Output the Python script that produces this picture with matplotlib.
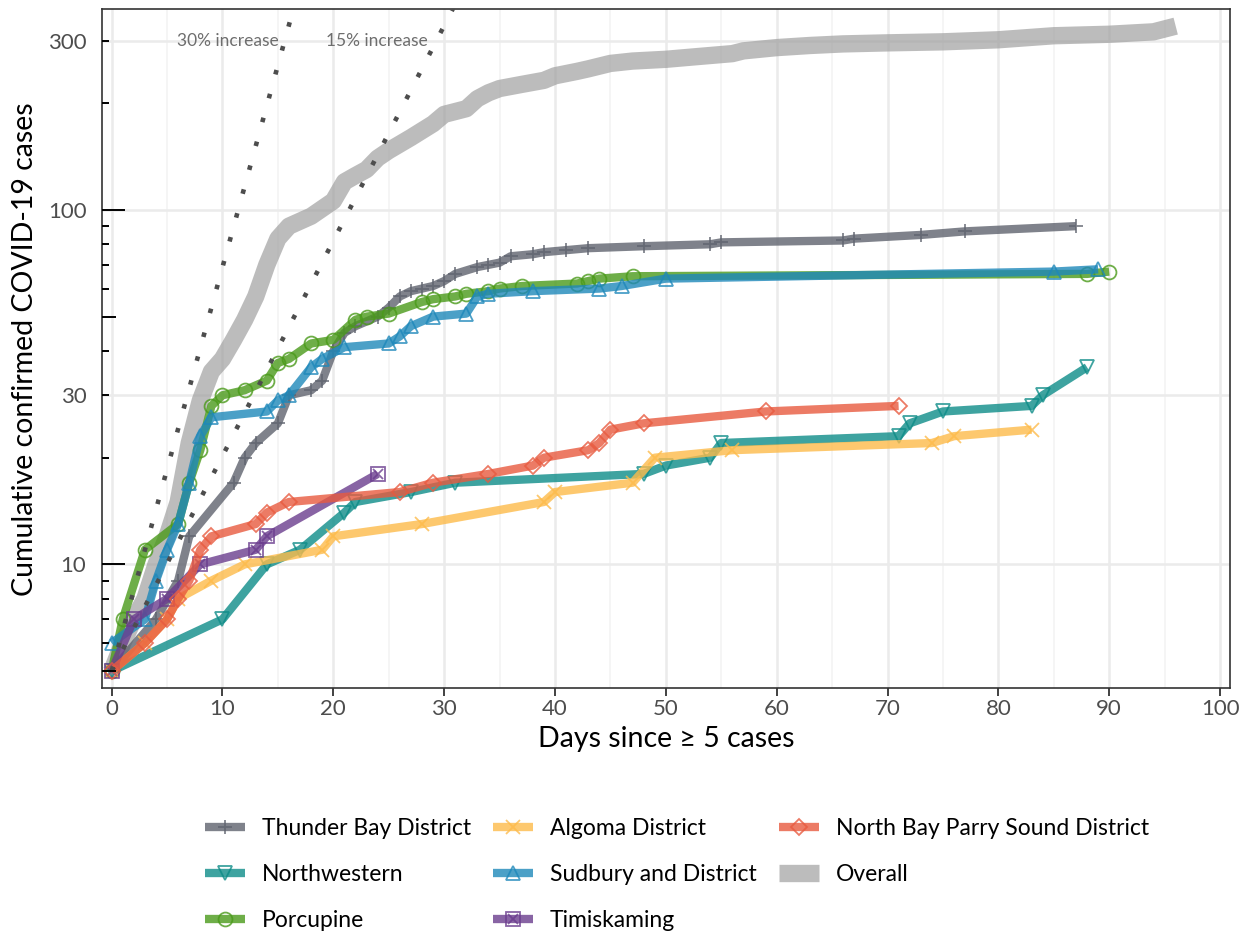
import matplotlib
matplotlib.use("Agg")
import matplotlib.pyplot as plt
from matplotlib.legend_handler import HandlerTuple
from matplotlib.ticker import NullLocator

plt.rcParams['font.family'] = ['Lato', 'DejaVu Sans']

# ---- values ----
overall_days = [0, 1, 2, 3, 4, 5, 6, 7, 8, 9, 10, 11, 12, 13, 14, 15, 16, 18, 20, 21, 22, 23,
                24, 25, 27, 29, 30, 32, 33, 34, 35, 37, 39, 40, 42, 43, 45, 47, 50, 53, 56,
                57, 60, 63, 66, 70, 75, 80, 85, 90, 94, 96]
overall_cases = [5, 6, 7, 8, 10, 12, 15, 22, 29, 35, 38, 43, 49, 57, 70, 83, 90, 96, 106, 120,
                 125, 130, 140, 147, 160, 175, 186, 193, 206, 214, 220, 226, 232, 239, 246, 250,
                 259, 263, 266, 271, 276, 281, 287, 291, 294, 296, 298, 302, 310, 313, 318, 330]

thunder_days = [0, 4, 6, 7, 11, 12, 13, 15, 16, 18, 19, 20, 21, 22, 24, 25, 26, 27, 28, 29, 30,
                31, 33, 34, 35, 36, 38, 39, 41, 43, 48, 54, 55, 66, 67, 73, 77, 87]
thunder_cases = [5, 7, 9, 12, 17, 20, 22, 25, 30, 31, 33, 40, 45, 47, 50, 53, 57, 59, 60, 61, 63,
                 66, 69, 70, 71, 74, 75, 76, 77, 78, 79, 80, 81, 82, 83, 85, 87, 90]

northwestern_days = [0, 10, 14, 17, 21, 22, 27, 31, 48, 50, 54, 55, 71, 72, 75, 83, 84, 88]
northwestern_cases = [5, 7, 10, 11, 14, 15, 16, 17, 18, 19, 20, 22, 23, 25, 27, 28, 30, 36]

porcupine_days = [0, 1, 3, 6, 7, 8, 9, 10, 12, 14, 15, 16, 18, 20, 22, 23, 25, 28, 29, 31, 32,
                  34, 35, 37, 42, 43, 44, 47, 88, 90]
porcupine_cases = [5, 7, 11, 13, 17, 21, 28, 30, 31, 33, 37, 38, 42, 43, 49, 50, 51, 55, 56, 57,
                   58, 59, 60, 61, 62, 63, 64, 65, 66, 67]

algoma_days = [0, 3, 5, 6, 9, 12, 19, 20, 28, 39, 40, 47, 49, 56, 74, 76, 83]
algoma_cases = [5, 6, 7, 8, 9, 10, 11, 12, 13, 15, 16, 17, 20, 21, 22, 23, 24]

sudbury_days = [0, 3, 4, 5, 6, 7, 8, 9, 14, 15, 16, 18, 19, 21, 25, 26, 27, 29, 32, 33, 34, 38,
                44, 46, 50, 85, 89]
sudbury_cases = [6, 7, 9, 11, 13, 17, 23, 26, 27, 29, 30, 36, 38, 41, 42, 44, 47, 50, 51, 57, 58,
                 59, 60, 61, 64, 67, 68]

timiskaming_days = [0, 2, 5, 8, 13, 14, 24]
timiskaming_cases = [5, 7, 8, 10, 11, 12, 18]

northbay_days = [0, 3, 5, 6, 7, 8, 9, 13, 14, 16, 26, 29, 34, 38, 39, 43, 44, 45, 48, 59, 71]
northbay_cases = [5, 6, 7, 8, 9, 11, 12, 13, 14, 15, 16, 17, 18, 19, 20, 21, 22, 24, 25, 27, 28]

growth_labels = ["30% increase", "15% increase"]
growth_rates = [0.30, 0.15]
growth_end_days = [17, 32]
growth_label_days = [15.1, 28.5]

y_ticks = [10, 30, 100, 300]
x_ticks = list(range(0, 101, 10))
logticks_long = [10, 100]
logticks_mid = [5, 50]
logticks_short = [6, 7, 8, 9, 20, 30, 40, 60, 70, 80, 90, 200, 300]

fig = plt.figure(figsize=(12.49, 9.34), dpi=100)
ax = fig.add_axes([0.0814, 0.263, 0.9034, 0.727])
ax.set_yscale('log')

# overall band at the bottom
h_overall, = ax.plot(overall_days, overall_cases, color='#999999', alpha=0.65, lw=12.5,
                     solid_capstyle='butt', solid_joinstyle='round', zorder=2, label='Overall')

series = [
    ("Thunder Bay District", thunder_days, thunder_cases, '#5F636E', '+', 'full'),
    ("Northwestern", northwestern_days, northwestern_cases, '#0E8C88', 'v', 'none'),
    ("Porcupine", porcupine_days, porcupine_cases, '#4A9A1A', 'o', 'none'),
    ("Algoma District", algoma_days, algoma_cases, '#FDBB4A', 'x', 'full'),
    ("Sudbury and District", sudbury_days, sudbury_cases, '#1E88BA', '^', 'none'),
    ("Timiskaming", timiskaming_days, timiskaming_cases, '#6B3D8E', 's', 'none'),
    ("North Bay Parry Sound District", northbay_days, northbay_cases, '#E85A3F', 'D', 'none'),
]

handles = {}
for name, days, cases, color, marker, fill in series:
    ms = 8 if marker == 'D' else 10
    line, = ax.plot(days, cases, color=color, alpha=0.8, lw=6, marker=marker, ms=ms,
                    mew=1.3, mfc='none' if fill == 'none' else color, mec=color,
                    solid_capstyle='butt', solid_joinstyle='round', zorder=3)
    handles[name] = line
    if name == "Timiskaming":
        cross, = ax.plot(days, cases, ls='none', marker='x', ms=7, mew=1.3, color=color,
                         alpha=0.8, zorder=3)
        handles[name] = (line, cross)

# growth reference lines (straight on a log axis)
for label, rate, end_day, label_day in zip(growth_labels, growth_rates, growth_end_days,
                                           growth_label_days):
    ax.plot([0, end_day], [5, 5 * (1 + rate) ** end_day], color='#4D4D4D', lw=3.3,
            ls=(0, (1, 4.4)), zorder=4)
    ax.text(label_day, 300, label, ha='right', va='center', fontsize=12.5, color='#6E6E6E',
            zorder=6)

ax.set_xlim(-0.9, 100.9)
ax.set_ylim(4.47, 368)

ax.set_xticks(x_ticks)
ax.set_xticks([x + 5 for x in x_ticks[:-1]], minor=True)
ax.set_yticks(y_ticks)
ax.set_yticklabels([str(v) for v in y_ticks])
ax.yaxis.set_minor_locator(NullLocator())

ax.tick_params(axis='x', which='major', length=6, width=1.3, color='#333333',
               labelsize=16, labelcolor='#4D4D4D', pad=2)
ax.tick_params(axis='x', which='minor', length=0)
ax.tick_params(axis='y', which='major', length=0, labelsize=16, labelcolor='#4D4D4D', pad=11)

ax.grid(which='major', color='#EBEBEB', lw=1.8, zorder=0)
ax.grid(which='minor', axis='x', color='#F2F2F2', lw=1.1, zorder=0)
ax.set_axisbelow(True)

for spine in ax.spines.values():
    spine.set_color('#333333')
    spine.set_linewidth(1.2)

# log ticks along the left edge, inside the panel
for vals, frac in ((logticks_long, 0.0205), (logticks_mid, 0.0125), (logticks_short, 0.0065)):
    ax.hlines(vals, 0, frac, transform=ax.get_yaxis_transform(), colors='black', lw=1.4,
              zorder=5)

ax.set_xlabel("Days since \u2265 5 cases", fontsize=20.5, labelpad=5)
ax.set_ylabel("Cumulative confirmed COVID-19 cases", fontsize=20.5, labelpad=7)

order = ["Thunder Bay District", "Northwestern", "Porcupine", "Algoma District",
         "Sudbury and District", "Timiskaming", "North Bay Parry Sound District"]
leg_handles = [handles[n] for n in order] + [h_overall]
leg_labels = order + ["Overall"]
leg = fig.legend(leg_handles, leg_labels, loc='upper left', bbox_to_anchor=(0.155, 0.136),
                 ncol=3, frameon=False, fontsize=16.5, handlelength=1.75, handletextpad=0.74,
                 columnspacing=0.95, labelspacing=1.08, borderpad=0,
                 handler_map={tuple: HandlerTuple(ndivide=1)})

fig.savefig("out.png", dpi=100)
